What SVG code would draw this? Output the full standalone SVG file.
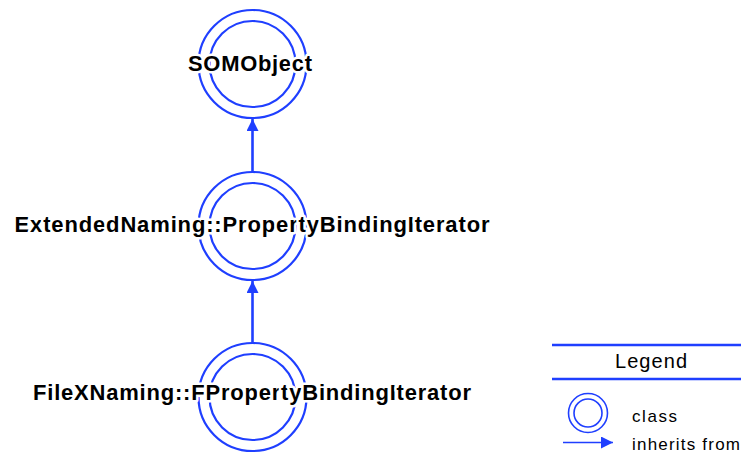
<svg xmlns="http://www.w3.org/2000/svg" width="741" height="454" viewBox="0 0 741 454">
<defs>
<style>
.ring{fill:none;stroke:#1f3fff;stroke-width:2.2}
.lring{fill:none;stroke:#1f3fff;stroke-width:1.6}
.lbl{font-family:"Liberation Sans",Arial,sans-serif;font-weight:bold;font-size:22px;fill:#000;text-anchor:middle;stroke:#fff;stroke-width:5;paint-order:stroke;stroke-linejoin:round}
.leg{font-family:"Liberation Sans",Arial,sans-serif;font-size:17px;fill:#000}
.edge{stroke:#1f3fff;stroke-width:2.6;fill:none}
</style>
<marker id="ah" viewBox="0 0 10 10" refX="10" refY="5" markerWidth="12" markerHeight="12" markerUnits="userSpaceOnUse" orient="auto">
<path d="M0,0 L10,5 L0,10 z" fill="#1f3fff"/>
</marker>
</defs>
<rect width="741" height="454" fill="#fff"/>
<g id="connectors">
<line class="edge" x1="252.5" y1="172" x2="252.5" y2="119" marker-end="url(#ah)"/>
<line class="edge" x1="252.5" y1="343" x2="252.5" y2="281" marker-end="url(#ah)"/>
</g>
<g id="SOMObject">
<circle class="ring" cx="252.5" cy="64" r="54"/>
<circle class="ring" cx="252.5" cy="64" r="43"/>
<text class="lbl" x="250" y="71" textLength="124" lengthAdjust="spacing">SOMObject</text>
</g>
<g id="PropertyBindingIterator">
<circle class="ring" cx="252.5" cy="226" r="54"/>
<circle class="ring" cx="252.5" cy="226" r="43"/>
<text class="lbl" x="252" y="232" textLength="475" lengthAdjust="spacing">ExtendedNaming::PropertyBindingIterator</text>
</g>
<g id="FPropertyBindingIterator">
<circle class="ring" cx="252.5" cy="397" r="54"/>
<circle class="ring" cx="252.5" cy="397" r="43"/>
<text class="lbl" x="252" y="400" textLength="438" lengthAdjust="spacing">FileXNaming::FPropertyBindingIterator</text>
</g>
<g id="legend">
<line x1="552" y1="345" x2="741" y2="345" stroke="#1f3fff" stroke-width="2.5"/>
<line x1="552" y1="379" x2="741" y2="379" stroke="#1f3fff" stroke-width="2.5"/>
<text class="leg" x="651" y="368" style="font-size:20px" text-anchor="middle" textLength="72" lengthAdjust="spacing">Legend</text>
<circle class="lring" cx="588" cy="413" r="19.5"/>
<circle class="lring" cx="588" cy="413" r="14"/>
<text class="leg" x="632" y="422" textLength="45" lengthAdjust="spacing">class</text>
<line x1="563" y1="442.5" x2="613" y2="442.5" stroke="#1f3fff" stroke-width="1.6" marker-end="url(#ah)"/>
<text class="leg" x="632" y="450" textLength="108" lengthAdjust="spacing">inherits from</text>
</g>
</svg>
